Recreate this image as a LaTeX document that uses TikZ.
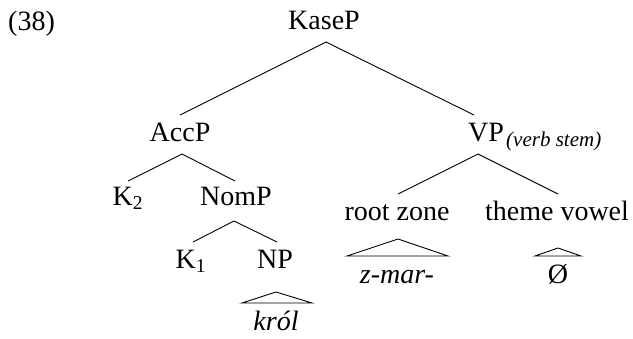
\documentclass[tikz,border=0pt]{standalone}
\usepackage{fontspec}
\setmainfont{Liberation Serif}
\usetikzlibrary{calc}
\begin{document}
\begin{tikzpicture}[x=1pt,y=-1pt,
  lbl/.style={inner sep=0pt, anchor=base, font=\fontsize{28}{33}\selectfont},
  itlbl/.style={lbl, font=\fontsize{28}{33}\selectfont\itshape},
  sublbl/.style={inner sep=0pt, anchor=base west, font=\fontsize{21}{25}\selectfont\itshape},
  edge/.style={line width=0.9pt, line join=miter},
]
\useasboundingbox (0,0) rectangle (633,338);
% labels
\node[lbl, anchor=base west] (ex) at (8,30) {(38)};
\node[lbl] (kase) at (324,29) {KaseP};
\node[lbl] (acc) at (180,141) {AccP};
\node[lbl] (vp) at (486,141) {VP};
\node[sublbl] (vpsub) at (506,146) {(verb stem)};
\node[lbl] (k2) at (128,205) {K\textsubscript{2}};
\node[lbl] (nom) at (236,205) {NomP};
\node[lbl] (k1) at (191,268) {K\textsubscript{1}};
\node[lbl] (np) at (275,268) {NP};
\node[itlbl] (krol) at (276,330) {król};
\node[lbl] (root) at (397,220) {root zone};
\node[lbl] (theme) at (557,220) {theme vowel};
\node[itlbl] (zmar) at (397,283) {z-mar-};
\node[lbl] (zero) at (558,283) {Ø};
% branches
\draw[edge] ($(acc.base)+(0,-26)$) -- ($(kase.base)+(2,13)$) -- ($(vp.base)+(-12,-26)$);
\draw[edge] ($(k2.base)+(0,-24)$) -- ($(acc.base)+(2,13)$) -- ($(nom.base)+(-1,-24)$);
\draw[edge] ($(root.base)+(1,-26)$) -- ($(vp.base)+(-8,13)$) -- ($(theme.base)+(1,-26)$);
\draw[edge] ($(k1.base)+(2,-26)$) -- ($(nom.base)+(-2,16)$) -- ($(np.base)+(2,-26)$);
% triangles
\draw[edge] ($(np.base)+(1,24)$) -- ($(krol.base)+(36,-27)$) -- ($(krol.base)+(-34,-27)$) -- cycle;
\draw[edge] ($(root.base)+(1,19)$) -- ($(zmar.base)+(51,-27)$) -- ($(zmar.base)+(-50,-27)$) -- cycle;
\draw[edge] ($(theme.base)+(1,28)$) -- ($(zero.base)+(23,-27)$) -- ($(zero.base)+(-23,-27)$) -- cycle;
\end{tikzpicture}
\end{document}
